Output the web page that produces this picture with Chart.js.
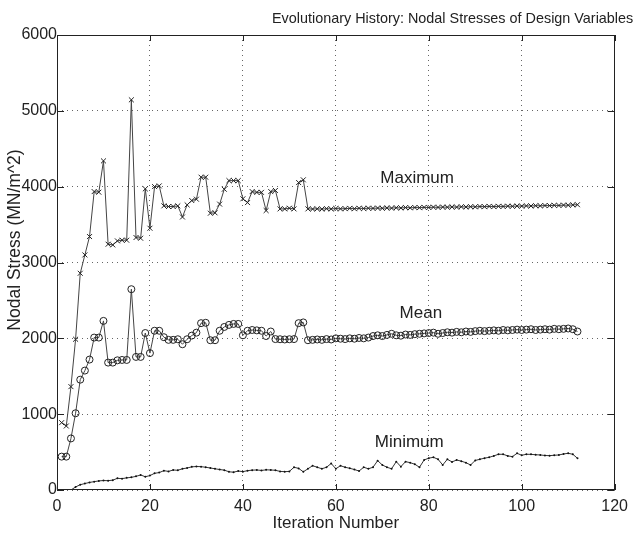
<!DOCTYPE html>
<html>
<head>
<meta charset="utf-8">
<title>Evolutionary History</title>
<script src="https://cdn.jsdelivr.net/npm/chart.js@4.4.0/dist/chart.umd.min.js"></script>
<style>
  html, body { margin: 0; padding: 0; background: #fff; }
  #wrap { width: 635px; height: 538px; }
</style>
</head>
<body>
<div id="wrap"><canvas id="chart" width="635" height="538"></canvas></div>
<script>
// values, one per iteration (1..112)
const maxStress = [
  888, 844, 1363, 1988, 2858, 3100, 3342, 3935, 3927, 4340,
  3241, 3232, 3285, 3294, 3294, 5145, 3329, 3320, 3971, 3452,
  4001, 4010, 3747, 3738, 3738, 3747, 3600, 3760, 3817, 3835,
  4125, 4125, 3650, 3655, 3770, 3966, 4080, 4080, 4080, 3840,
  3790, 3935, 3925, 3925, 3685, 3935, 3950, 3707, 3707, 3716,
  3707, 4054, 4090, 3707, 3705, 3708, 3704, 3710, 3706, 3712,
  3708, 3710, 3714, 3709, 3715, 3712, 3716, 3714, 3718, 3715,
  3720, 3717, 3722, 3719, 3724, 3721, 3725, 3723, 3727, 3725,
  3730, 3727, 3731, 3729, 3733, 3730, 3735, 3732, 3736, 3734,
  3738, 3736, 3740, 3737, 3741, 3739, 3743, 3741, 3745, 3743,
  3747, 3745, 3749, 3747, 3751, 3750, 3754, 3752, 3757, 3755,
  3760, 3762
];
const meanStress = [
  440, 440, 680, 1012, 1455, 1575, 1720, 2010, 2010, 2230,
  1680, 1680, 1710, 1715, 1715, 2648, 1755, 1755, 2070, 1805,
  2100, 2100, 2015, 1980, 1980, 1988, 1922, 1988, 2036, 2075,
  2200, 2205, 1975, 1975, 2100, 2150, 2177, 2190, 2190, 2040,
  2100, 2110, 2105, 2100, 2030, 2090, 1990, 1988, 1985, 1988,
  1990, 2200, 2210, 1975, 1980, 1985, 1980, 1990, 1985, 2000,
  1995, 1990, 2000, 1995, 2005, 2000, 2010, 2030, 2040, 2030,
  2045, 2060, 2040, 2035, 2050, 2045, 2055, 2060, 2065, 2070,
  2075, 2060, 2070, 2080, 2075, 2085, 2080, 2090, 2085, 2095,
  2100, 2095, 2100, 2105, 2100, 2110, 2105, 2110, 2115, 2110,
  2115, 2120, 2110, 2115, 2120, 2115, 2125, 2120, 2125, 2130,
  2120, 2090
];
const minStress = [
  0, 0, 0, 40, 70, 85, 100, 110, 120, 125,
  123, 130, 154, 150, 160, 167, 180, 198, 175, 190,
  220, 230, 255, 245, 264, 260, 280, 290, 305, 310,
  308, 300, 290, 280, 270, 262, 240, 235, 250, 242,
  255, 262, 264, 258, 266, 264, 260, 245, 242, 245,
  300, 285, 240, 280, 320, 300, 280, 300, 350, 280,
  320, 300, 286, 270, 250, 300, 280, 300, 387, 330,
  300, 280, 374, 308, 374, 360, 340, 300, 396, 420,
  431, 405, 330, 405, 370, 396, 380, 360, 330, 390,
  405, 420, 431, 450, 471, 471, 450, 440, 484, 458,
  471, 470, 465, 462, 455, 453, 458, 462, 475, 484,
  471, 418
];
const iterations = maxStress.map((_, i) => i + 1);

const xTicks = [0, 20, 40, 60, 80, 100, 120];
const yTicks = [0, 1000, 2000, 3000, 4000, 5000, 6000];

const titleText = 'Evolutionary History: Nodal Stresses of Design Variables';
const xTitle = 'Iteration Number';
const yTitle = 'Nodal Stress (MN/m^2)';

const FONT = "'Liberation Sans', Arial, sans-serif";
const INK = '#222';

const toPoints = vals => vals.map((v, i) => ({ x: iterations[i], y: v }));

// box, inward ticks, curve labels, y title and the title
const frame = {
  id: 'frame',
  afterDraw(chart) {
    const { ctx, chartArea: a, scales: { x, y } } = chart;
    ctx.save();
    ctx.strokeStyle = INK;
    ctx.lineWidth = 1;
    ctx.strokeRect(Math.round(a.left) + 0.5, Math.round(a.top) + 0.5,
      Math.round(a.width) - 1, Math.round(a.height) - 1);

    ctx.beginPath();
    xTicks.forEach(t => {
      const px = Math.round(x.getPixelForValue(t)) + 0.5;
      ctx.moveTo(px, a.bottom); ctx.lineTo(px, a.bottom - 6);
      ctx.moveTo(px, a.top); ctx.lineTo(px, a.top + 6);
    });
    yTicks.forEach(t => {
      const py = Math.round(y.getPixelForValue(t)) + 0.5;
      ctx.moveTo(a.left, py); ctx.lineTo(a.left + 7, py);
      ctx.moveTo(a.right, py); ctx.lineTo(a.right - 7, py);
    });
    ctx.stroke();

    ctx.fillStyle = INK;
    ctx.font = '17px ' + FONT;
    ctx.textAlign = 'center';
    ctx.textBaseline = 'middle';
    ctx.fillText('Maximum', x.getPixelForValue(77.5), y.getPixelForValue(4110));
    ctx.fillText('Mean', x.getPixelForValue(78.3), y.getPixelForValue(2330));
    ctx.fillText('Minimum', x.getPixelForValue(75.8), y.getPixelForValue(625));

    ctx.save();
    ctx.translate(15, 240);
    ctx.rotate(-Math.PI / 2);
    ctx.font = '17.5px ' + FONT;
    ctx.fillText(yTitle, 0, 0);
    ctx.restore();

    ctx.font = '14.4px ' + FONT;
    ctx.textAlign = 'left';
    ctx.textBaseline = 'alphabetic';
    ctx.fillText(titleText, 272, 23);
    ctx.restore();
  }
};

new Chart(document.getElementById('chart'), {
  type: 'line',
  data: {
    datasets: [
      {
        label: 'Maximum',
        data: toPoints(maxStress),
        borderColor: '#444',
        borderWidth: 1,
        pointStyle: 'crossRot',
        pointRadius: 3.5,
        pointBorderColor: '#222',
        pointBorderWidth: 1,
        tension: 0
      },
      {
        label: 'Mean',
        data: toPoints(meanStress),
        borderColor: '#444',
        borderWidth: 1,
        pointStyle: 'circle',
        pointRadius: 3.5,
        pointBackgroundColor: 'rgba(0,0,0,0)',
        pointBorderColor: '#222',
        pointBorderWidth: 1,
        tension: 0
      },
      {
        label: 'Minimum',
        data: toPoints(minStress),
        borderColor: '#333',
        borderWidth: 1,
        pointStyle: 'circle',
        pointRadius: 1,
        pointBackgroundColor: '#111',
        pointBorderWidth: 0,
        tension: 0
      }
    ]
  },
  options: {
    responsive: false,
    animation: false,
    layout: { padding: { left: 5, top: 35, right: 13, bottom: 2 } },
    plugins: {
      legend: { display: false },
      tooltip: { enabled: false }
    },
    scales: {
      x: {
        type: 'linear',
        min: 0,
        max: 120,
        afterBuildTicks: s => { s.ticks = xTicks.map(v => ({ value: v })); },
        afterFit: s => { s.height = 46; },
        grid: { color: '#666', lineWidth: 1, drawTicks: false },
        border: { display: false, dash: [1, 4] },
        ticks: { color: INK, font: { family: FONT, size: 16 }, padding: 7, maxRotation: 0, callback: v => String(v) },
        title: { display: true, text: xTitle, color: INK, font: { family: FONT, size: 17 }, padding: { top: 0, bottom: 2 } }
      },
      y: {
        min: 0,
        max: 6000,
        afterBuildTicks: s => { s.ticks = yTicks.map(v => ({ value: v })); },
        afterFit: s => { s.width = 52; },
        grid: { color: '#666', lineWidth: 1, drawTicks: false },
        border: { display: false, dash: [1, 4] },
        ticks: { color: INK, font: { family: FONT, size: 16 }, padding: 0, callback: v => String(v) },
        title: { display: false }
      }
    }
  },
  plugins: [frame]
});
</script>
</body>
</html>
